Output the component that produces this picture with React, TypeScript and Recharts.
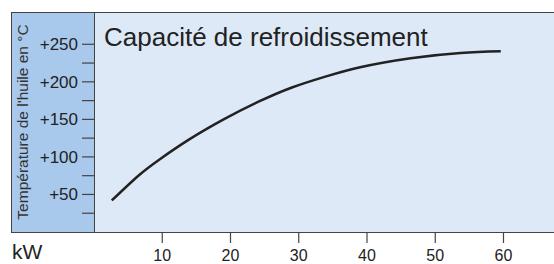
import { LineChart, Line, XAxis, YAxis, Label } from "recharts";

const kw = [2.6, 6.5, 9.5, 13.9, 19.2, 24.1, 29, 33.9, 39, 46.4, 53.7, 59.6];
const temperature = [42, 75, 96, 123, 151, 173.5, 192.5, 207, 219.5, 231.5, 238.5, 240.8];
const xTicks = [10, 20, 30, 40, 50, 60];
const yTicks = [25, 50, 75, 100, 125, 150, 175, 200, 225, 250];

const data = kw.map((k, i) => ({ kw: k, temp: temperature[i] }));

const font = "'Liberation Sans', Arial, sans-serif";

function YTick(props: any) {
  const { x, y, payload } = props;
  if (payload.value % 50 !== 0) return <g />;
  return (
    <text x={x} y={y} dy={6} textAnchor="end" fontSize={17} fill="#222" fontFamily={font}>
      {"+" + payload.value}
    </text>
  );
}

export default function App() {
  return (
    <div style={{ position: "absolute", left: 0, top: 0, width: 554, height: 264, background: "#fff" }}>
      <div style={{ position: "absolute", left: 11, top: 12, width: 83, height: 220, background: "#a9c9ec" }} />
      <div style={{ position: "absolute", left: 94, top: 12, width: 460, height: 220, background: "#dee9f7" }} />
      <div
        style={{
          position: "absolute",
          left: 11,
          top: 12,
          width: 560,
          height: 219,
          borderLeft: "1.5px solid #444",
          borderTop: "1.5px solid #444",
          borderBottom: "1.5px solid #444",
        }}
      />
      <div style={{ position: "absolute", left: 93.5, top: 12, width: 1.5, height: 220, background: "#444" }} />
      <div style={{ position: "absolute", left: 104, top: 22, fontFamily: font, fontSize: 26, color: "#222", lineHeight: "30px" }}>
        Capacité de refroidissement
      </div>
      <div style={{ position: "absolute", left: 12, top: 240, fontFamily: font, fontSize: 21, color: "#222", lineHeight: "24px" }}>
        kW
      </div>
      <div style={{ position: "absolute", left: 0, top: 0 }}>
        <LineChart width={554} height={264} data={data} margin={{ top: 12, right: 0, bottom: 0, left: 11 }}>
          <XAxis
            dataKey="kw"
            type="number"
            domain={[0, 67.4]}
            ticks={xTicks}
            interval={0}
            allowDataOverflow
            axisLine={false}
            tickLine={{ stroke: "#444", strokeWidth: 1.2 }}
            tickSize={11}
            tickMargin={7}
            height={32}
            tick={{ fontSize: 16, fill: "#222", fontFamily: font }}
          />
          <YAxis
            type="number"
            domain={[0, 293]}
            ticks={yTicks}
            interval={0}
            allowDataOverflow
            width={83}
            axisLine={false}
            tickLine={{ stroke: "#444", strokeWidth: 1.2 }}
            tickSize={12}
            tickMargin={4}
            tick={<YTick />}
          >
            <Label
              value="Température de l'huile en °C"
              angle={-90}
              position="insideLeft"
              offset={11}
              style={{ fontSize: 15.5, fill: "#333", fontFamily: font, textAnchor: "middle" }}
            />
          </YAxis>
          <Line
            dataKey="temp"
            type="natural"
            stroke="#222"
            strokeWidth={2.5}
            dot={false}
            isAnimationActive={false}
          />
        </LineChart>
      </div>
    </div>
  );
}
